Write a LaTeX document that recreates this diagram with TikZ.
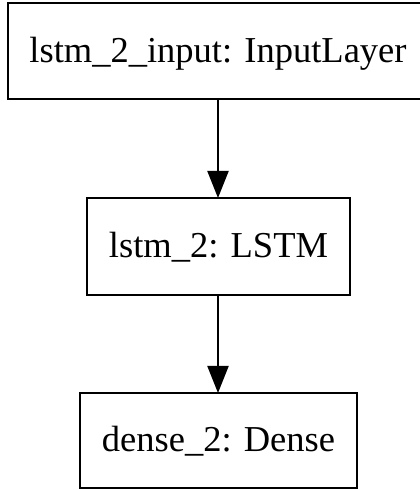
\documentclass[tikz,border=0pt]{standalone}
\usepackage{fontspec}
\setmainfont{Liberation Serif}
\usetikzlibrary{arrows.meta}
\begin{document}
\begin{tikzpicture}[x=1pt,y=1pt,
  layer/.style={draw=black, line width=2pt, fill=white, rectangle, inner sep=0pt, outer sep=0pt,
    font=\fontsize{36.5}{40}\selectfont, text height=25pt, text depth=2pt, align=center},
  conn/.style={draw=black, line width=2pt, -{Triangle[length=27pt,width=21pt]}}]
\useasboundingbox (0,0) rectangle (420,490);
\fill[white] (0,0) rectangle (420,490);
\clip (0,0) rectangle (420,490);
\node[layer, minimum width=420pt, minimum height=96pt] (input) at (218,439) {lstm\_2\_input: InputLayer};
\node[layer, minimum width=263pt, minimum height=97pt] (lstm) at (218.5,243.5) {lstm\_2: LSTM};
\node[layer, minimum width=277pt, minimum height=95pt] (dense) at (218.5,49.5) {dense\_2: Dense};
\draw[conn] (input.south -| 218,0) -- (lstm.north -| 218,0);
\draw[conn] (lstm.south -| 218,0) -- (dense.north -| 218,0);
\end{tikzpicture}
\end{document}
